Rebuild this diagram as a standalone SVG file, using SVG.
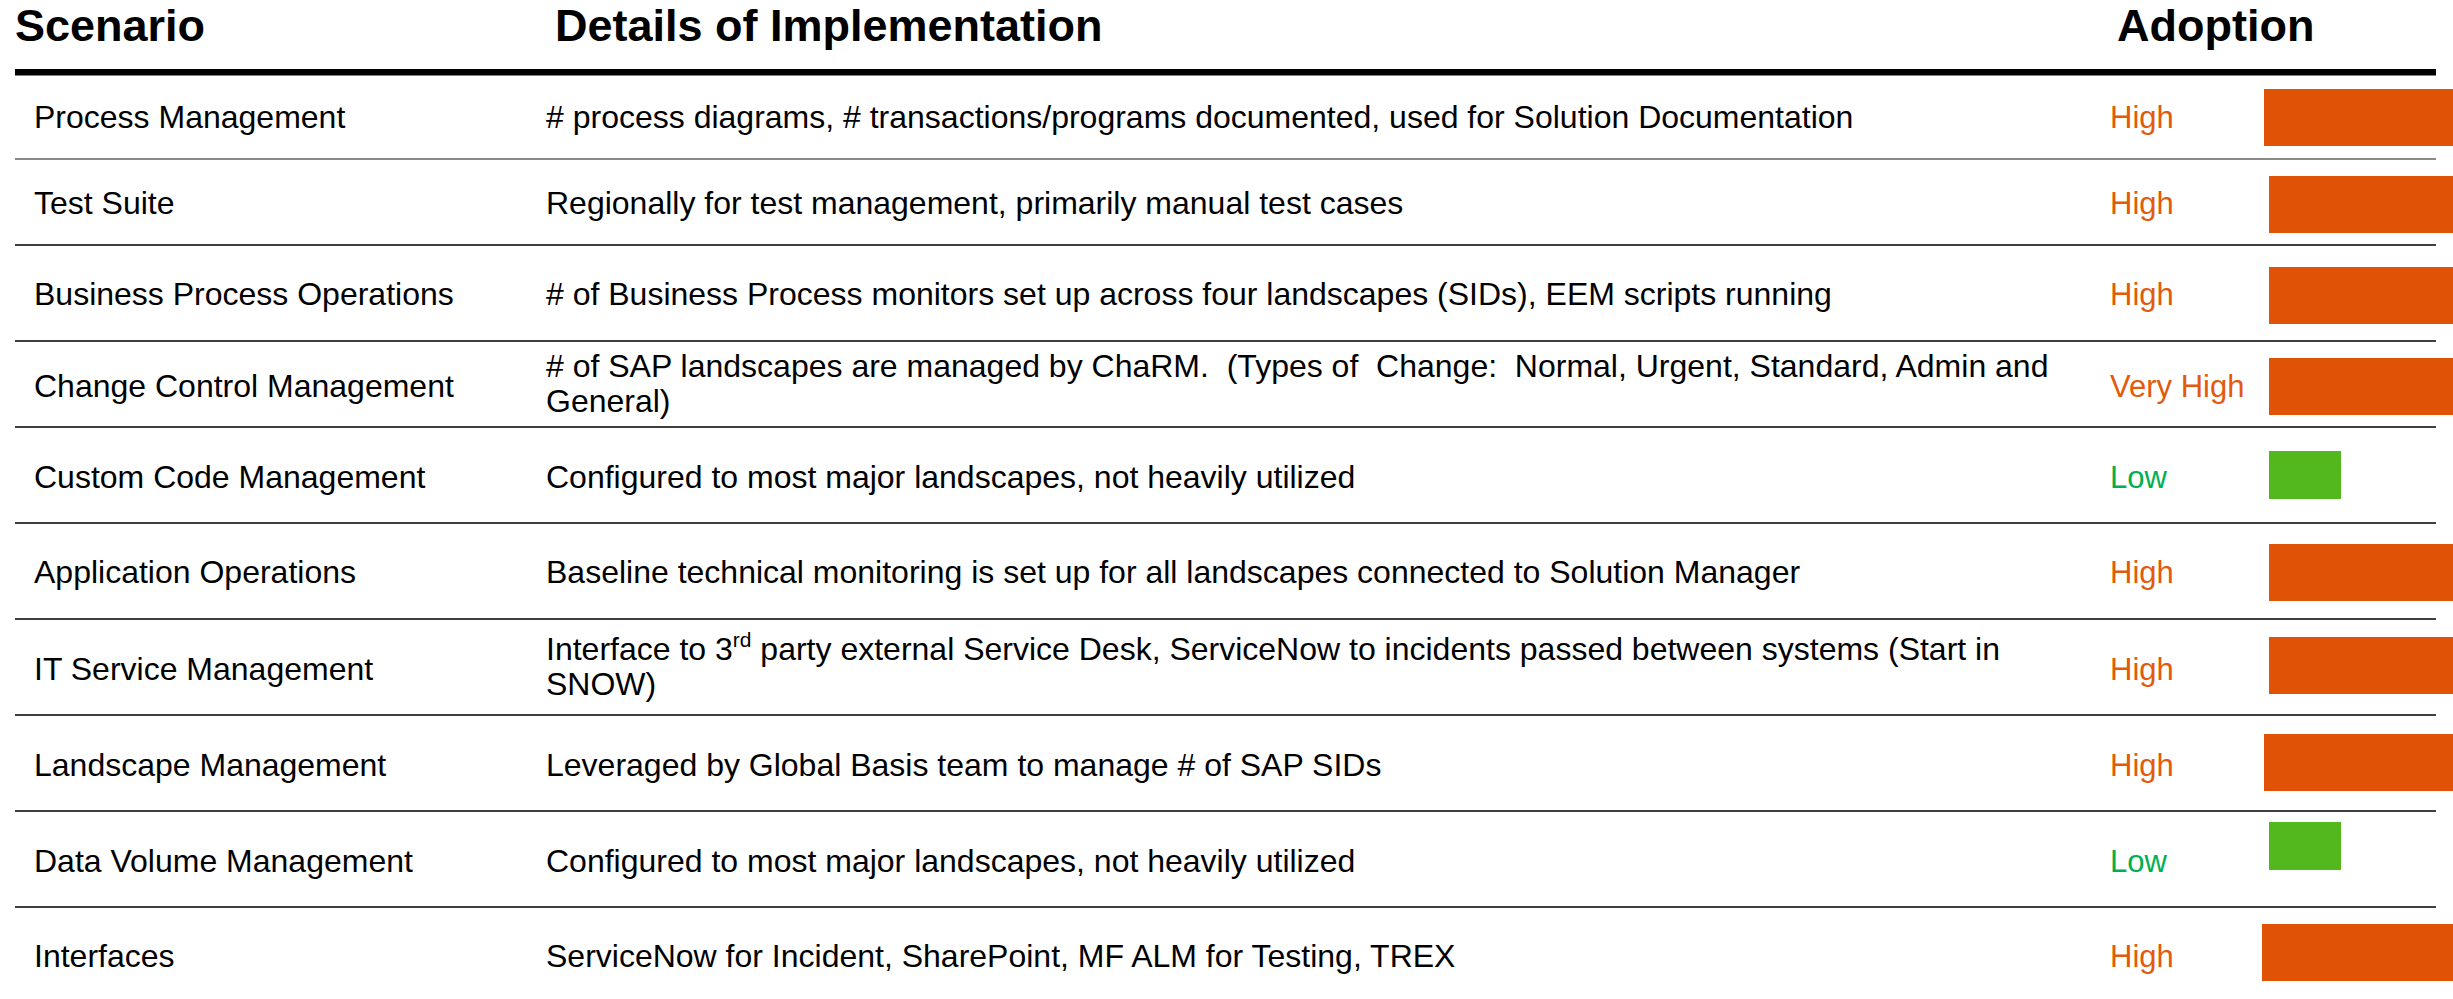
<svg xmlns="http://www.w3.org/2000/svg" width="2453" height="999" viewBox="0 0 2453 999">
<style>
text{font-family:"Liberation Sans",Arial,sans-serif;}
.h{font-size:45px;font-weight:bold;fill:#000;}
.t{font-size:32px;fill:#000;white-space:pre;}
.hi{font-size:31px;fill:#E25A0B;}
.lo{font-size:31px;fill:#00B050;}
.bo{fill:#E05206;}
.bg{fill:#52B81E;}
.sep{stroke:#404040;stroke-width:2;}
</style>
<rect width="2453" height="999" fill="#fff"/>
<g id="header">
<text class="h" x="15" y="41">Scenario</text>
<text class="h" x="555" y="41">Details of Implementation</text>
<text class="h" x="2117" y="41">Adoption</text>
</g>
<g id="connectors">
<rect x="15" y="69" width="2421" height="6.5" fill="#000"/>
<line class="sep" x1="15" y1="159" x2="2436" y2="159" style="stroke:#8a8a8a"/>
<line class="sep" x1="15" y1="245" x2="2436" y2="245"/>
<line class="sep" x1="15" y1="341" x2="2436" y2="341"/>
<line class="sep" x1="15" y1="427" x2="2436" y2="427"/>
<line class="sep" x1="15" y1="523" x2="2436" y2="523"/>
<line class="sep" x1="15" y1="619" x2="2436" y2="619"/>
<line class="sep" x1="15" y1="715" x2="2436" y2="715"/>
<line class="sep" x1="15" y1="811" x2="2436" y2="811"/>
<line class="sep" x1="15" y1="907" x2="2436" y2="907"/>
</g>
<g id="row-process-management">
<text class="t" x="34" y="128">Process Management</text>
<text class="t" x="546" y="128"># process diagrams, # transactions/programs documented, used for Solution Documentation</text>
<text class="hi" x="2110" y="128">High</text>
<rect class="bo" x="2264" y="89" width="189" height="57"/>
</g>
<g id="row-test-suite">
<text class="t" x="34" y="214">Test Suite</text>
<text class="t" x="546" y="214">Regionally for test management, primarily manual test cases</text>
<text class="hi" x="2110" y="214">High</text>
<rect class="bo" x="2269" y="176" width="184" height="57"/>
</g>
<g id="row-business-process-operations">
<text class="t" x="34" y="305">Business Process Operations</text>
<text class="t" x="546" y="305"># of Business Process monitors set up across four landscapes (SIDs), EEM scripts running</text>
<text class="hi" x="2110" y="305">High</text>
<rect class="bo" x="2269" y="267" width="184" height="57"/>
</g>
<g id="row-change-control-management">
<text class="t" x="34" y="397">Change Control Management</text>
<text class="t" x="546" y="377"># of SAP landscapes are managed by ChaRM.  (Types of  Change:  Normal, Urgent, Standard, Admin and</text>
<text class="t" x="546" y="412">General)</text>
<text class="hi" x="2110" y="397">Very High</text>
<rect class="bo" x="2269" y="358" width="184" height="57"/>
</g>
<g id="row-custom-code-management">
<text class="t" x="34" y="488">Custom Code Management</text>
<text class="t" x="546" y="488">Configured to most major landscapes, not heavily utilized</text>
<text class="lo" x="2110" y="488">Low</text>
<rect class="bg" x="2269" y="451" width="72" height="48"/>
</g>
<g id="row-application-operations">
<text class="t" x="34" y="583">Application Operations</text>
<text class="t" x="546" y="583">Baseline technical monitoring is set up for all landscapes connected to Solution Manager</text>
<text class="hi" x="2110" y="583">High</text>
<rect class="bo" x="2269" y="544" width="184" height="57"/>
</g>
<g id="row-it-service-management">
<text class="t" x="34" y="680">IT Service Management</text>
<text class="t" x="546" y="660">Interface to 3<tspan font-size="21" dy="-13">rd</tspan><tspan dy="13"> party external Service Desk, ServiceNow to incidents passed between systems (Start in</tspan></text>
<text class="t" x="546" y="695">SNOW)</text>
<text class="hi" x="2110" y="680">High</text>
<rect class="bo" x="2269" y="637" width="184" height="57"/>
</g>
<g id="row-landscape-management">
<text class="t" x="34" y="776">Landscape Management</text>
<text class="t" x="546" y="776">Leveraged by Global Basis team to manage # of SAP SIDs</text>
<text class="hi" x="2110" y="776">High</text>
<rect class="bo" x="2264" y="734" width="189" height="57"/>
</g>
<g id="row-data-volume-management">
<text class="t" x="34" y="872">Data Volume Management</text>
<text class="t" x="546" y="872">Configured to most major landscapes, not heavily utilized</text>
<text class="lo" x="2110" y="872">Low</text>
<rect class="bg" x="2269" y="822" width="72" height="48"/>
</g>
<g id="row-interfaces">
<text class="t" x="34" y="967">Interfaces</text>
<text class="t" x="546" y="967">ServiceNow for Incident, SharePoint, MF ALM for Testing, TREX</text>
<text class="hi" x="2110" y="967">High</text>
<rect class="bo" x="2262" y="924" width="191" height="57"/>
</g>
</svg>
